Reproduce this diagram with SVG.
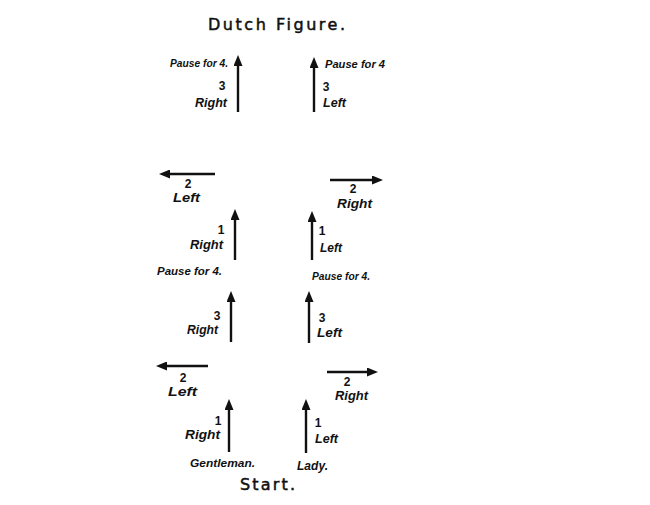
<svg xmlns="http://www.w3.org/2000/svg" width="650" height="505" viewBox="0 0 650 505">
<style>
.t{font-family:"Liberation Sans",Arial,sans-serif;fill:#111;}
.title{font-family:"DejaVu Sans",sans-serif;font-size:16px;stroke:#111;stroke-width:0.5;}
.lab{font-size:12px;font-style:italic;font-weight:bold;}
.sm{font-size:11px;font-style:italic;font-weight:bold;}
.num{font-size:12px;font-weight:bold;}
.arr{stroke:#111;stroke-width:2.4;fill:none;marker-end:url(#ah);}
</style>
<defs>
<marker id="ah" markerUnits="userSpaceOnUse" markerWidth="11" markerHeight="9" refX="4" refY="4.5" orient="auto" viewBox="0 0 11 9">
<path d="M0,0 L11,4.5 L0,9 Z" fill="#111"/>
</marker>
</defs>
<rect width="650" height="505" fill="#fff"/>
<g id="title"><text class="t title" x="208" y="30" textLength="137" lengthAdjust="spacing">Dutch Figure.</text></g>
<g id="connectors">
<line class="arr" x1="238" y1="112" x2="238" y2="62"/>
<line class="arr" x1="314" y1="112" x2="314" y2="64"/>
<line class="arr" x1="215" y1="174" x2="166" y2="174"/>
<line class="arr" x1="330" y1="180" x2="376" y2="180"/>
<line class="arr" x1="235" y1="260" x2="235" y2="216"/>
<line class="arr" x1="312" y1="260" x2="312" y2="218"/>
<line class="arr" x1="231" y1="342" x2="231" y2="298"/>
<line class="arr" x1="309" y1="343" x2="309" y2="298"/>
<line class="arr" x1="208" y1="366" x2="163" y2="366"/>
<line class="arr" x1="327" y1="372" x2="371" y2="372"/>
<line class="arr" x1="229" y1="452" x2="229" y2="406"/>
<line class="arr" x1="306" y1="453" x2="306" y2="406"/>
</g>
<g id="g-step3-top">
<text class="t sm" x="170" y="67" textLength="58" lengthAdjust="spacingAndGlyphs">Pause for 4.</text>
<text class="t num" x="222" y="90" text-anchor="middle">3</text>
<text class="t lab" x="195" y="107" textLength="32" lengthAdjust="spacingAndGlyphs">Right</text>
</g>
<g id="l-step3-top">
<text class="t sm" x="325" y="68" textLength="60" lengthAdjust="spacingAndGlyphs">Pause for 4</text>
<text class="t num" x="326" y="91" text-anchor="middle">3</text>
<text class="t lab" x="323" y="107" textLength="23" lengthAdjust="spacingAndGlyphs">Left</text>
</g>
<g id="g-step2-upper">
<text class="t num" x="188" y="188" text-anchor="middle">2</text>
<text class="t lab" x="173" y="202" textLength="27" lengthAdjust="spacingAndGlyphs">Left</text>
</g>
<g id="l-step2-upper">
<text class="t num" x="353" y="193" text-anchor="middle">2</text>
<text class="t lab" x="337" y="208" textLength="35" lengthAdjust="spacingAndGlyphs">Right</text>
</g>
<g id="g-step1-mid">
<text class="t num" x="221" y="234" text-anchor="middle">1</text>
<text class="t lab" x="190" y="249" textLength="33" lengthAdjust="spacingAndGlyphs">Right</text>
<text class="t sm" x="157" y="275" textLength="65" lengthAdjust="spacingAndGlyphs">Pause for 4.</text>
</g>
<g id="l-step1-mid">
<text class="t num" x="322" y="235" text-anchor="middle">1</text>
<text class="t lab" x="320" y="252" textLength="22" lengthAdjust="spacingAndGlyphs">Left</text>
<text class="t sm" x="312" y="280" textLength="58" lengthAdjust="spacingAndGlyphs">Pause for 4.</text>
</g>
<g id="g-step3-mid">
<text class="t num" x="217" y="320" text-anchor="middle">3</text>
<text class="t lab" x="187" y="334" textLength="31" lengthAdjust="spacingAndGlyphs">Right</text>
</g>
<g id="l-step3-mid">
<text class="t num" x="322" y="322" text-anchor="middle">3</text>
<text class="t lab" x="317" y="337" textLength="25" lengthAdjust="spacingAndGlyphs">Left</text>
</g>
<g id="g-step2-lower">
<text class="t num" x="183" y="382" text-anchor="middle">2</text>
<text class="t lab" x="168" y="396" textLength="29" lengthAdjust="spacingAndGlyphs">Left</text>
</g>
<g id="l-step2-lower">
<text class="t num" x="347" y="386" text-anchor="middle">2</text>
<text class="t lab" x="335" y="400" textLength="33" lengthAdjust="spacingAndGlyphs">Right</text>
</g>
<g id="g-step1-start">
<text class="t num" x="218" y="425" text-anchor="middle">1</text>
<text class="t lab" x="185" y="439" textLength="35" lengthAdjust="spacingAndGlyphs">Right</text>
<text class="t sm" x="190" y="467" textLength="65" lengthAdjust="spacingAndGlyphs">Gentleman.</text>
</g>
<g id="l-step1-start">
<text class="t num" x="318" y="427" text-anchor="middle">1</text>
<text class="t lab" x="315" y="443" textLength="23" lengthAdjust="spacingAndGlyphs">Left</text>
<text class="t lab" x="297" y="470" textLength="31" lengthAdjust="spacingAndGlyphs">Lady.</text>
</g>
<g id="start"><text class="t title" x="240" y="490" textLength="55" lengthAdjust="spacing">Start.</text></g>
</svg>
